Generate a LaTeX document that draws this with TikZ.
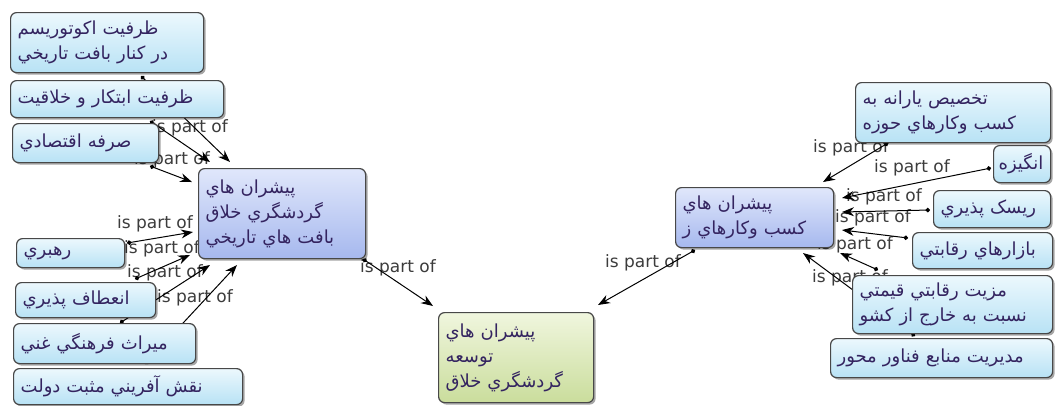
\documentclass[tikz,border=0pt]{standalone}
\usepackage{fontspec}
\setmainfont{DejaVu Sans}
\newfontfamily\arabicfont[Script=Arabic]{DejaVu Sans}
\TeXXeTstate=1
\usetikzlibrary{arrows.meta,shadows,backgrounds}
\newcommand{\myrl}[1]{\mbox{\beginR #1\endR}}
\definecolor{txtc}{RGB}{52,36,96}
\definecolor{bordc}{RGB}{72,72,72}
\definecolor{lblc}{RGB}{60,60,60}
\definecolor{paletop}{RGB}{236,248,253}
\definecolor{palebot}{RGB}{184,226,245}
\definecolor{midtop}{RGB}{224,231,251}
\definecolor{midbot}{RGB}{166,184,238}
\definecolor{grntop}{RGB}{240,246,222}
\definecolor{grnbot}{RGB}{202,221,156}
\tikzset{
  concept/.style={draw=bordc, line width=1.2pt, rounded corners=6pt, anchor=north west,
    inner xsep=7pt, inner ysep=2pt, align=left, text=txtc,
    font=\arabicfont\fontsize{18}{25}\selectfont,
    drop shadow={shadow xshift=2pt, shadow yshift=-2pt, opacity=0.35, fill=black}},
  cpale/.style={concept, top color=paletop, bottom color=palebot},
  cmid/.style={concept, top color=midtop, bottom color=midbot},
  cgreen/.style={concept, top color=grntop, bottom color=grnbot},
  lbl/.style={font=\fontsize{17}{19}\selectfont, text=lblc, inner sep=0pt},
  conn/.style={draw=black, line width=1pt, {Circle[length=4.5pt]}-{Stealth[length=12pt,width=9pt]}}
}
\begin{document}
\begin{tikzpicture}[x=1pt,y=-1pt]
\useasboundingbox (0,0) rectangle (1056,405);
% left concepts
\node[cpale, text width=179pt, minimum height=60pt] (A1) at (10,12) {\myrl{ظرفيت اکوتوريسم}\\\myrl{در کنار بافت تاريخي}};
\node[cpale, text width=199pt, minimum height=37pt] (A2) at (10,80) {\myrl{ظرفيت ابتکار و خلاقيت}};
\node[cpale, text width=132pt, minimum height=39pt] (A3) at (12,123) {\myrl{صرفه اقتصادي}};
\node[cmid, text width=153pt, minimum height=90pt] (C1) at (198,168) {\myrl{پيشران هاي}\\\myrl{گردشگري خلاق}\\\myrl{بافت هاي تاريخي}};
\node[cpale, text width=94pt, minimum height=29pt] (L1) at (16,238) {\myrl{رهبري}};
\node[cpale, text width=126pt, minimum height=35pt] (L2) at (15,282) {\myrl{انعطاف پذيري}};
\node[cpale, text width=168pt, minimum height=40pt] (L3) at (13,323) {\myrl{ميراث فرهنگي غني}};
\node[cpale, text width=215pt, minimum height=36pt] (L4) at (13,368) {\myrl{نقش آفريني مثبت دولت}};
% center
\node[cgreen, text width=141pt, minimum height=90pt] (C0) at (438,312) {\myrl{پيشران هاي}\\\myrl{توسعه}\\\myrl{گردشگري خلاق}};
\node[cmid, text width=144pt, minimum height=60pt] (C2) at (675,187) {\myrl{پيشران هاي}\\\myrl{کسب وکارهاي ز}};
% right concepts
\node[cpale, text width=181pt, minimum height=60pt] (R1) at (855,82) {\myrl{تخصيص يارانه به}\\\myrl{کسب وکارهاي  حوزه}};
\node[cpale, inner xsep=5pt, text width=47pt, minimum height=37pt] (R2) at (993,145) {\myrl{انگيزه}};
\node[cpale, text width=103pt, minimum height=37pt] (R3) at (933,190) {\myrl{ريسک پذيري}};
\node[cpale, text width=126pt, minimum height=36pt] (R4) at (912,232) {\myrl{بازارهاي رقابتي}};
\node[cpale, text width=186pt, minimum height=58pt] (R5) at (852,275) {\myrl{مزيت رقابتي قيمتي}\\\myrl{نسبت به خارج از کشو}};
\node[cpale, text width=208pt, minimum height=39pt] (R6) at (830,338) {\myrl{مديريت منابع فناور محور}};
\begin{pgfonlayer}{background}
% labels
\node[lbl] (t1) at (190,128) {is part of};
\node[lbl] (t2) at (172,160) {is part of};
\node[lbl] (t4) at (155,224) {is part of};
\node[lbl] (t5) at (162,249) {is part of};
\node[lbl] (t6) at (165,273) {is part of};
\node[lbl] (t7) at (195,298) {is part of};
\node[lbl] (t8) at (398,268) {is part of};
\node[lbl] (t9) at (643,263) {is part of};
\node[lbl] (t10) at (851,148) {is part of};
\node[lbl] (t11) at (912,168) {is part of};
\node[lbl] (t12) at (884,197) {is part of};
\node[lbl] (t13) at (873,218) {is part of};
\node[lbl] (t14) at (855,245) {is part of};
\node[lbl] (t15) at (850,278) {is part of};
% connectors
\draw[conn] ([shift={(131,64)}]A1.north west) -- ([shift={(32,-6)}]C1.north west);
\draw[conn] ([shift={(140,41)}]A2.north west) -- ([shift={(12,-6)}]C1.north west);
\draw[conn] ([shift={(138,43)}]A3.north west) -- ([shift={(-6,14)}]C1.north west);
\draw[conn] ([shift={(111,5)}]L1.north west) -- ([shift={(-5,64)}]C1.north west);
\draw[conn] ([shift={(120,-3)}]L2.north west) -- ([shift={(-8,87)}]C1.north west);
\draw[conn] ([shift={(107,0)}]L3.north west) -- ([shift={(12,97)}]C1.north west);
\draw[conn] ([shift={(132,-4)}]L4.north west) -- ([shift={(39,97)}]C1.north west);
\draw[conn] ([shift={(165,91)}]C1.north west) -- ([shift={(-5,-6)}]C0.north west);
\draw[conn] ([shift={(20,63)}]C2.north west) -- ([shift={(160,-7)}]C0.north west);
\draw[conn] ([shift={(33,61)}]R1.north west) -- ([shift={(148,-5)}]C2.north west);
\draw[conn] ([shift={(-2,23)}]R2.north west) -- ([shift={(167,11)}]C2.north west);
\draw[conn] ([shift={(-3,20)}]R3.north west) -- ([shift={(167,25)}]C2.north west);
\draw[conn] ([shift={(-4,6)}]R4.north west) -- ([shift={(167,43)}]C2.north west);
\draw[conn] ([shift={(26,-5)}]R5.north west) -- ([shift={(165,66)}]C2.north west);
\draw[conn] ([shift={(85,-2)}]R6.north west) -- ([shift={(128,66)}]C2.north west);
\end{pgfonlayer}
\end{tikzpicture}
\end{document}
